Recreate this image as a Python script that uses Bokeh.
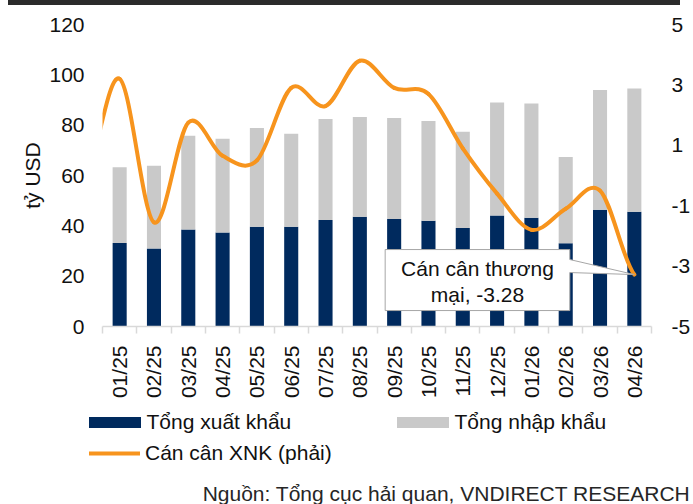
import math
from bokeh.plotting import figure
from bokeh.models import (Range1d, LinearAxis, FixedTicker, Legend, LegendItem,
                          Label, Div, ColumnDataSource)
from bokeh.layouts import column
from bokeh.core.properties import value
from bokeh.embed import file_html
from bokeh.resources import INLINE

# ---------------- data ----------------
months = ["01/25", "02/25", "03/25", "04/25", "05/25", "06/25", "07/25", "08/25",
          "09/25", "10/25", "11/25", "12/25", "01/26", "02/26", "03/26", "04/26"]
exports = [33.2, 31.0, 38.5, 37.4, 39.6, 39.6, 42.3, 43.6,
           42.7, 42.0, 39.1, 44.1, 43.2, 33.1, 46.4, 45.6]
imports = [30.1, 32.9, 37.3, 37.2, 39.3, 37.0, 40.2, 39.6,
           40.1, 39.7, 38.3, 44.9, 45.4, 34.3, 47.6, 49.0]
balance = [3.2, -1.55, 1.75, 0.65, 0.5, 2.9, 2.3, 3.8,
           2.9, 2.7, 0.9, -0.6, -1.8, -1.1, -0.5, -3.28]
balance_prev = -0.1          # 12/24: only the tail of its curve shows at the left edge
left_ticks = [0, 20, 40, 60, 80, 100, 120]
right_ticks = [-5, -3, -1, 1, 3, 5]
series_names = ["Tổng xuất khẩu", "Tổng nhập khẩu", "Cán cân XNK (phải)"]
y_title = "tỷ USD"
callout_prefix = "Cán cân thương\nmại, "
source_note = "Nguồn: Tổng cục hải quan, VNDIRECT RESEARCH"

# ---------------- style ----------------
FONT = "Liberation Sans"
FS = "21px"
TXT = "#111111"
NAVY = "#002A5E"
GRAY = "#C9C9C9"
ORANGE = "#F7941D"
AXIS = "#D9D9D9"

BAND_H = 5
W, H = 693, 400
FL, FR, FT, FB = 102, 655, 24 - BAND_H, 326 - BAND_H   # frame edges (figure px)

n = len(months)
p = figure(width=W, height=H, output_backend="svg", toolbar_location=None,
           x_range=Range1d(-0.5, n - 0.5), y_range=Range1d(left_ticks[0], left_ticks[-1]),
           min_border_left=FL, min_border_right=W - FR,
           min_border_top=FT, min_border_bottom=H - FB)
p.frame_align = False
p.extra_y_ranges = {"right": Range1d(right_ticks[0], right_ticks[-1])}
p.outline_line_color = None
p.xgrid.visible = False
p.ygrid.visible = False

# bars
src = ColumnDataSource(dict(x=list(range(n)), exp=exports, imp=imports))
bars = p.vbar_stack(["exp", "imp"], x="x", width=0.41, color=[NAVY, GRAY],
                    line_color=None, source=src)

# smooth balance line (Bezier segments, Excel-like smoothing)
xs = [-1] + list(range(n))
ys = [balance_prev] + balance
m = len(xs)
seg = dict(x0=[], y0=[], x1=[], y1=[], cx0=[], cy0=[], cx1=[], cy1=[])
for i in range(m - 1):
    yp = ys[i - 1] if i > 0 else ys[i]
    yn = ys[i + 2] if i + 2 < m else ys[i + 1]
    seg["x0"].append(xs[i]); seg["y0"].append(ys[i])
    seg["x1"].append(xs[i + 1]); seg["y1"].append(ys[i + 1])
    seg["cx0"].append(xs[i] + 1 / 3); seg["cy0"].append(ys[i] + (ys[i + 1] - yp) / 6)
    seg["cx1"].append(xs[i + 1] - 1 / 3); seg["cy1"].append(ys[i + 1] - (yn - ys[i]) / 6)
line = p.bezier(x0="x0", y0="y0", x1="x1", y1="y1", cx0="cx0", cy0="cy0",
                cx1="cx1", cy1="cy1", source=ColumnDataSource(seg),
                line_color=ORANGE, line_width=4, line_cap="round",
                y_range_name="right")

# callout anchored at last balance point
px_x = (FR - FL) / n
px_y = (FB - FT) / (right_ticks[-1] - right_ticks[0])
ax, ay = n - 1, balance[-1]
def off(dx, dy):
    return ax + dx / px_x, ay - dy / px_y
pts = [off(-251, -25), off(-65, -25), off(-65, -15), off(0, 0),
       off(-65, -2), off(-65, 36), off(-251, 36)]
p.patch([q_[0] for q_ in pts], [q_[1] for q_ in pts], fill_color="white",
        line_color="#A6A6A6", line_width=1, y_range_name="right")
tx, ty = off(-158, 7)
p.text(x=[tx], y=[ty], text=[callout_prefix + f"{balance[-1]:.2f}"],
       text_align="center", text_baseline="middle", text_font=value(FONT),
       text_font_size=FS, text_color=TXT, text_line_height=1.1,
       y_range_name="right")

# axes
xa = p.xaxis[0]
xa.ticker = FixedTicker(ticks=list(range(n)), minor_ticks=[i - 0.5 for i in range(n + 1)])
xa.major_label_overrides = {i: months[i] for i in range(n)}
xa.major_label_orientation = math.pi / 2
xa.major_tick_line_color = None
xa.major_tick_out = 0
xa.minor_tick_line_color = AXIS
xa.minor_tick_line_width = 1.5
xa.minor_tick_out = 7
xa.minor_tick_in = 0
xa.axis_line_color = AXIS
xa.axis_line_width = 1.5
xa.major_label_standoff = 12
xa.major_label_text_font = FONT
xa.major_label_text_font_size = FS
xa.major_label_text_color = TXT

ya = p.yaxis[0]
ya.ticker = FixedTicker(ticks=left_ticks)
ya.axis_line_color = None
ya.major_tick_line_color = None
ya.minor_tick_line_color = None
ya.major_tick_out = 0
ya.major_label_standoff = 18
ya.major_label_text_font = FONT
ya.major_label_text_font_size = FS
ya.major_label_text_color = TXT
ya.axis_label = y_title
ya.axis_label_standoff = 2
ya.axis_label_text_font = FONT
ya.axis_label_text_font_size = FS
ya.axis_label_text_font_style = "normal"
ya.axis_label_text_color = TXT

ra = LinearAxis(y_range_name="right", ticker=FixedTicker(ticks=right_ticks))
ra.major_label_overrides = {t: str(t) for t in right_ticks}
ra.axis_line_color = None
ra.major_tick_line_color = None
ra.minor_tick_line_color = None
ra.major_tick_out = 0
ra.major_label_standoff = 20
ra.major_label_text_font = FONT
ra.major_label_text_font_size = FS
ra.major_label_text_color = TXT
p.add_layout(ra, "right")

# ---------------- legend + source strip (separate figure, same width) ----------------
LH = 504 - BAND_H - H
q = figure(width=W, height=LH, output_backend="svg", toolbar_location=None,
           x_range=Range1d(0, W), y_range=Range1d(0, LH),
           x_axis_type=None, y_axis_type=None, min_border=0)
q.frame_align = False
q.outline_line_color = None
q.xgrid.visible = False
q.ygrid.visible = False
# legend proxies (hidden) carrying the series styles
proxy = ColumnDataSource(dict(x=[0], top=[exports[0]]))
k_exp = q.vbar(x="x", top="top", width=1, color=NAVY, line_color=None, source=proxy,
               visible=False)
k_imp = q.vbar(x="x", top="top", width=1, color=GRAY, line_color=None, source=proxy,
               visible=False)
k_bal = q.line(x="x", y="top", line_color=ORANGE, line_width=4, line_cap="round",
               source=proxy, visible=False)

def make_legend(label, rend, loc, gw, gh, standoff):
    lg = Legend(items=[LegendItem(label=label, renderers=[rend])], location=loc,
                orientation="horizontal", glyph_width=gw, glyph_height=gh,
                label_standoff=standoff, padding=0, margin=0, spacing=0,
                border_line_color=None, background_fill_alpha=0,
                inactive_fill_alpha=0,
                label_text_font=FONT, label_text_font_size=FS,
                label_text_color=TXT)
    q.add_layout(lg, "center")

make_legend(series_names[0], k_exp, (81.5, LH - 29), 65, 14, -1)
make_legend(series_names[1], k_imp, (389.5, LH - 29), 65, 14, -2)
make_legend(series_names[2], k_bal, (89, LH - 60), 51, 14, 5)

q.add_layout(Label(x=690, y=LH - 88, text=source_note, text_align="right",
                   text_baseline="alphabetic", text_font=FONT,
                   text_font_size=FS, text_color="#262626"))

band = Div(text="", width=672, height=BAND_H, margin=(0, 0, 0, 8),
           styles={"background-color": "#2B2B2B"})
page = column(band, p, q, spacing=0)

open("out.html", "w").write(file_html(page, INLINE))
